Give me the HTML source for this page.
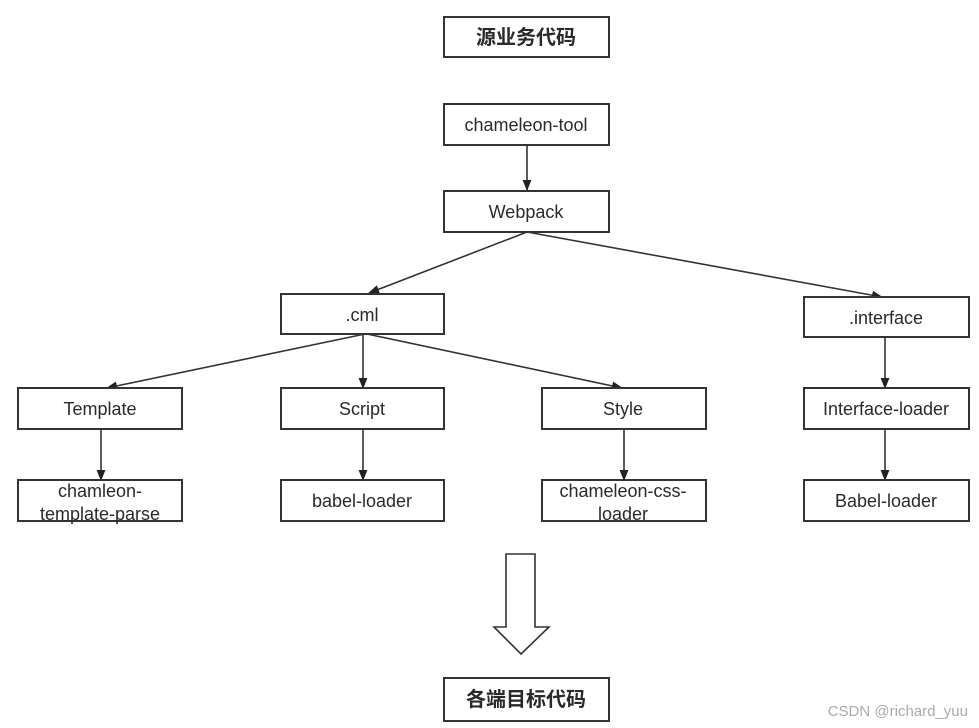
<!DOCTYPE html>
<html><head><meta charset="utf-8"><style>
html,body{margin:0;padding:0;background:#fff;}
svg{display:block;}
text{font-family:"Liberation Sans","Noto Sans CJK SC",sans-serif;fill:#2a2a2a;font-size:18px;}
.c{font-weight:bold;font-size:20px;}
rect{fill:#fff;stroke:#333;stroke-width:2;}
line{stroke:#333;stroke-width:1.6;}
</style></head><body>
<svg width="979" height="728" viewBox="0 0 979 728" xmlns="http://www.w3.org/2000/svg">
<defs><marker id="a" viewBox="0 0 10 10" refX="9" refY="5" markerWidth="7" markerHeight="7" orient="auto"><path d="M0,1 L10,5 L0,9 z" fill="#222"/></marker></defs>
<rect x="444" y="17" width="165" height="40"/>
<text class="c" x="526" y="44" text-anchor="middle">源业务代码</text>
<rect x="444" y="104" width="165" height="41"/>
<text x="526" y="131" text-anchor="middle">chameleon-tool</text>
<line x1="527" y1="145" x2="527" y2="190" marker-end="url(#a)"/>
<rect x="444" y="191" width="165" height="41"/>
<text x="526" y="218" text-anchor="middle">Webpack</text>
<line x1="527" y1="232" x2="369" y2="293" marker-end="url(#a)"/>
<line x1="527" y1="232" x2="882" y2="297" marker-end="url(#a)"/>
<rect x="281" y="294" width="163" height="40"/>
<text x="362" y="321" text-anchor="middle">.cml</text>
<rect x="804" y="297" width="165" height="40"/>
<text x="886" y="324" text-anchor="middle">.interface</text>
<line x1="365" y1="334" x2="107" y2="388" marker-end="url(#a)"/>
<line x1="363" y1="334" x2="363" y2="388" marker-end="url(#a)"/>
<line x1="367" y1="334" x2="622" y2="388" marker-end="url(#a)"/>
<line x1="885" y1="337" x2="885" y2="388" marker-end="url(#a)"/>
<rect x="18" y="388" width="164" height="41"/>
<text x="100" y="415" text-anchor="middle">Template</text>
<rect x="281" y="388" width="163" height="41"/>
<text x="362" y="415" text-anchor="middle">Script</text>
<rect x="542" y="388" width="164" height="41"/>
<text x="623" y="415" text-anchor="middle">Style</text>
<rect x="804" y="388" width="165" height="41"/>
<text x="886" y="415" text-anchor="middle">Interface-loader</text>
<line x1="101" y1="429" x2="101" y2="480" marker-end="url(#a)"/>
<line x1="363" y1="429" x2="363" y2="480" marker-end="url(#a)"/>
<line x1="624" y1="429" x2="624" y2="480" marker-end="url(#a)"/>
<line x1="885" y1="429" x2="885" y2="480" marker-end="url(#a)"/>
<rect x="18" y="480" width="164" height="41"/>
<text x="100" y="497" text-anchor="middle">chamleon-</text>
<text x="100" y="520" text-anchor="middle">template-parse</text>
<rect x="281" y="480" width="163" height="41"/>
<text x="362" y="507" text-anchor="middle">babel-loader</text>
<rect x="542" y="480" width="164" height="41"/>
<text x="623" y="497" text-anchor="middle">chameleon-css-</text>
<text x="623" y="520" text-anchor="middle">loader</text>
<rect x="804" y="480" width="165" height="41"/>
<text x="886" y="507" text-anchor="middle">Babel-loader</text>
<path d="M506,554 L535,554 L535,627 L549,627 L521,654 L494,627 L506,627 Z" fill="#fff" stroke="#333" stroke-width="1.6"/>
<rect x="444" y="678" width="165" height="43"/>
<text class="c" x="526" y="706" text-anchor="middle">各端目标代码</text>
<text x="968" y="716" text-anchor="end" style="font-size:15px;fill:#aaa;">CSDN @richard_yuu</text>
</svg>
</body></html>
